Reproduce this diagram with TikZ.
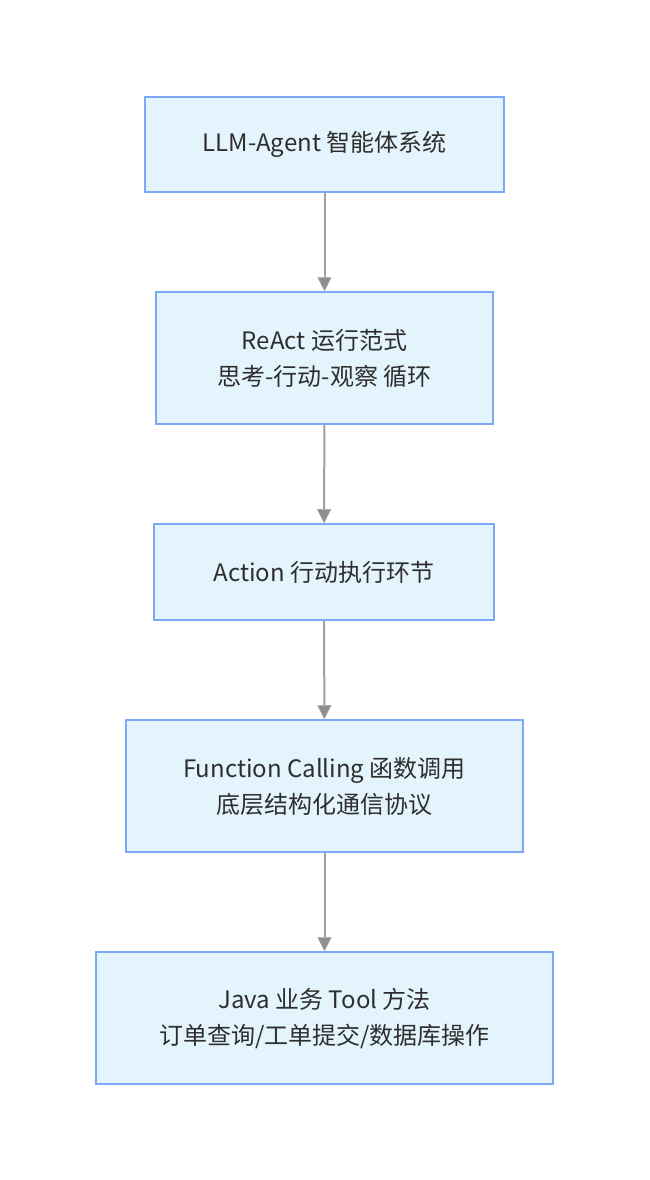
\documentclass[tikz,border=0pt]{standalone}
\usepackage{fontspec}
\setmainfont{Noto Sans CJK SC}
\usetikzlibrary{arrows.meta}
\definecolor{boxfill}{HTML}{E4F4FD}
\definecolor{boxline}{HTML}{7DA7F7}
\definecolor{flowline}{HTML}{A0A0A0}
\definecolor{tipfill}{HTML}{8E8E8E}
\definecolor{txt}{HTML}{2E2E2E}
\tikzset{
  stage/.style={draw=boxline, fill=boxfill, line width=1.5pt, align=center,
    text=txt, font=\fontsize{24}{36}\selectfont, inner sep=0pt},
  flow/.style={draw=flowline, line width=2pt,
    -{Triangle[length=14pt,width=14pt,fill=tipfill,color=flowline,line width=0.8pt]}}
}
\begin{document}
\begin{tikzpicture}[x=1pt, y=-1pt]
\useasboundingbox (0,0) rectangle (649,1180);
% boxes, top to bottom
\node [stage, minimum width=359pt, minimum height=95pt] (agent) at (324.5,144.5) {LLM-Agent 智能体系统};
\node [stage, minimum width=337pt, minimum height=132pt] (react) at (324.5,358) {ReAct 运行范式\\思考-行动-观察 循环};
\node [stage, minimum width=340pt, minimum height=96pt] (action) at (324,572) {Action 行动执行环节};
\node [stage, minimum width=397pt, minimum height=132pt] (call) at (324.5,786) {Function Calling 函数调用\\底层结构化通信协议};
\node [stage, minimum width=457pt, minimum height=132pt] (tool) at (324.5,1018) {Java 业务 Tool 方法\\订单查询/工单提交/数据库操作};
% arrows
\draw [flow] (agent) -- (react);
\draw [flow] (react) -- (action);
\draw [flow] (action) -- (call);
\draw [flow] (call) -- (tool);
\end{tikzpicture}
\end{document}
